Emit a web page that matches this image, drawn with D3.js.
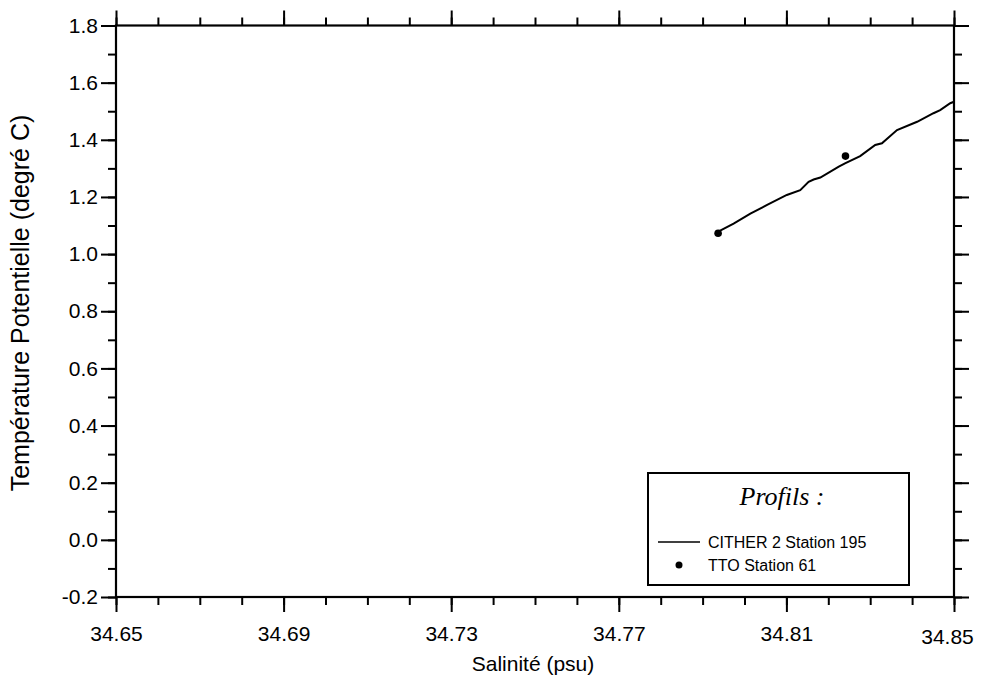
<!DOCTYPE html>
<html><head><meta charset="utf-8">
<script src="https://cdn.jsdelivr.net/npm/d3@7"></script>
<style>
html,body{margin:0;padding:0;background:#fff;}
svg{display:block;}
</style></head>
<body>
<svg id="chart" width="983" height="689"></svg>
<script>
// ---- data ----
const citherSalinity = [34.7935,34.7974,34.8014,34.8054,34.8101,34.8133,34.8153,34.8165,34.8181,34.8225,34.8241,34.8276,34.8312,34.8328,34.8364,34.8412,34.8451,34.8467,34.8491,34.8500];
const citherTemp     = [1.077,1.107,1.142,1.172,1.207,1.224,1.253,1.261,1.268,1.306,1.318,1.343,1.382,1.388,1.434,1.463,1.493,1.504,1.528,1.533];
const ttoSalinity = [34.7937, 34.8241];
const ttoTemp     = [1.073, 1.343];
const xMajorTicks = [34.65,34.69,34.73,34.77,34.81,34.85];
const yMajorTicks = [-0.2,0.0,0.2,0.4,0.6,0.8,1.0,1.2,1.4,1.6,1.8];
const legendLabels = ["CITHER 2 Station 195","TTO Station 61"];
const legendTitle = "Profils :";
const xTitle = "Salinité (psu)";
const yTitle = "Température Potentielle (degré C)";

// ---- layout ----
const L = 116, R = 954, T = 25.5, B = 597;
const svg = d3.select("#chart");
const x = d3.scaleLinear().domain([34.65, 34.85]).range([L, R]);
const y = d3.scaleLinear().domain([-0.2, 1.8]).range([B, T]);

const xMinor = d3.range(0, 21).map(i => +(34.65 + i*0.01).toFixed(2));
const yMinor = d3.range(0, 21).map(i => +(-0.2 + i*0.1).toFixed(1));

const font = "Arial, 'Liberation Sans', Helvetica, sans-serif";
const majorLen = 15, minorLen = 8;
const yFmt = d => d3.format(".1f")(d).replace("\u2212", "-");

function styleAxis(g){
  g.select(".domain").remove();
  g.selectAll(".tick line").attr("stroke","#000").attr("stroke-width",2);
  g.selectAll(".tick text").attr("fill","#000").style("font-family",font).style("font-size","21px");
}

// minor ticks
svg.append("g").attr("transform",`translate(0,${B})`)
  .call(d3.axisBottom(x).tickValues(xMinor).tickSize(minorLen).tickFormat("")).call(styleAxis);
svg.append("g").attr("transform",`translate(0,${T})`)
  .call(d3.axisTop(x).tickValues(xMinor).tickSize(minorLen).tickFormat("")).call(styleAxis);
svg.append("g").attr("transform",`translate(${L},0)`)
  .call(d3.axisLeft(y).tickValues(yMinor).tickSize(minorLen).tickFormat("")).call(styleAxis);
svg.append("g").attr("transform",`translate(${R},0)`)
  .call(d3.axisRight(y).tickValues(yMinor).tickSize(minorLen).tickFormat("")).call(styleAxis);

// major ticks
const gx = svg.append("g").attr("transform",`translate(0,${B})`)
  .call(d3.axisBottom(x).tickValues(xMajorTicks).tickSize(majorLen).tickPadding(14).tickFormat(d3.format(".2f"))).call(styleAxis);
gx.selectAll(".tick text").filter(d => d === 34.85).attr("dy","0.86em").attr("dx","-7");
svg.append("g").attr("transform",`translate(0,${T})`)
  .call(d3.axisTop(x).tickValues(xMajorTicks).tickSize(majorLen).tickFormat("")).call(styleAxis);
svg.append("g").attr("transform",`translate(${L},0)`)
  .call(d3.axisLeft(y).tickValues(yMajorTicks).tickSize(majorLen).tickPadding(3).tickFormat(yFmt)).call(styleAxis);
svg.append("g").attr("transform",`translate(${R},0)`)
  .call(d3.axisRight(y).tickValues(yMajorTicks).tickSize(majorLen).tickFormat("")).call(styleAxis);

// frame
svg.append("rect").attr("x",L).attr("y",T).attr("width",R-L).attr("height",B-T)
  .attr("fill","none").attr("stroke","#000").attr("stroke-width",2.2);

// titles
svg.append("text").attr("x",(L+R)/2 - 2).attr("y",671).attr("text-anchor","middle")
  .style("font-family",font).style("font-size","21px").text(xTitle);
svg.append("text").attr("transform",`translate(29,303) rotate(-90)`).attr("text-anchor","middle")
  .style("font-family",font).style("font-size","25px").text(yTitle);

// data
const lineData = citherSalinity.map((s,i)=>[s, citherTemp[i]]);
svg.append("path").datum(lineData)
  .attr("d", d3.line().x(d=>x(d[0])).y(d=>y(d[1])))
  .attr("fill","none").attr("stroke","#000").attr("stroke-width",2);
svg.selectAll("circle.tto").data(ttoSalinity.map((s,i)=>[s, ttoTemp[i]])).join("circle")
  .attr("class","tto").attr("cx",d=>x(d[0])).attr("cy",d=>y(d[1])).attr("r",3.8).attr("fill","#000");

// legend
const lg = svg.append("g");
lg.append("rect").attr("x",648).attr("y",473).attr("width",261).attr("height",112)
  .attr("fill","#fff").attr("stroke","#000").attr("stroke-width",2);
lg.append("text").attr("x",782).attr("y",505).attr("text-anchor","middle")
  .style("font-family","'Times New Roman', 'Liberation Serif', serif").style("font-style","italic").style("font-size","26px")
  .text(legendTitle);
lg.append("line").attr("x1",658).attr("x2",700).attr("y1",542).attr("y2",542).attr("stroke","#000").attr("stroke-width",1.5);
lg.append("circle").attr("cx",679).attr("cy",565).attr("r",3.5).attr("fill","#000");
lg.selectAll("text.lab").data(legendLabels).join("text").attr("class","lab")
  .attr("x",708).attr("y",(d,i)=>548 + i*23)
  .style("font-family",font).style("font-size","16px").text(d=>d);
</script>
</body></html>
